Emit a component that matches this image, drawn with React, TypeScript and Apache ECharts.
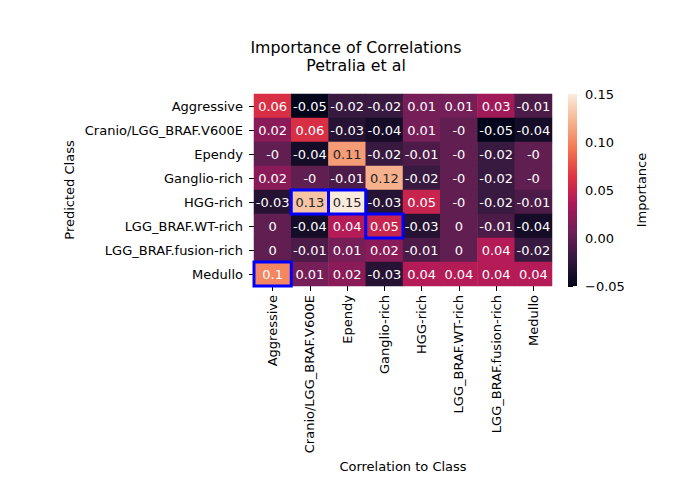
import React, { useEffect, useRef } from "react";
import * as echarts from "echarts";

const xCategories = [
  "Aggressive",
  "Cranio/LGG_BRAF.V600E",
  "Ependy",
  "Ganglio-rich",
  "HGG-rich",
  "LGG_BRAF.WT-rich",
  "LGG_BRAF.fusion-rich",
  "Medullo",
];
const yCategories = [
  "Aggressive",
  "Cranio/LGG_BRAF.V600E",
  "Ependy",
  "Ganglio-rich",
  "HGG-rich",
  "LGG_BRAF.WT-rich",
  "LGG_BRAF.fusion-rich",
  "Medullo",
];
// rows = predicted class (top to bottom), columns = correlation to class
const importance = [
  [0.06, -0.05, -0.02, -0.02, 0.01, 0.01, 0.03, -0.01],
  [0.02, 0.06, -0.03, -0.04, 0.01, -0, -0.05, -0.04],
  [-0, -0.04, 0.11, -0.02, -0.01, -0, -0.02, -0],
  [0.02, -0, -0.01, 0.12, -0.02, -0, -0.02, -0],
  [-0.03, 0.13, 0.15, -0.03, 0.05, -0, -0.02, -0.01],
  [0, -0.04, 0.04, 0.05, -0.03, 0, -0.01, -0.04],
  [0, -0.01, 0.01, 0.02, -0.01, 0, 0.04, -0.02],
  [0.1, 0.01, 0.02, -0.03, 0.04, 0.04, 0.04, 0.04],
];
// [column, row] of boxed cells
const highlighted = [
  [1, 4],
  [2, 4],
  [3, 5],
  [0, 7],
];
const colorMin = -0.05;
const colorMax = 0.15;
const colorStep = 0.05;
const rocket = ["#03051A", "#35193E", "#701F57", "#AD1759", "#E13342", "#F37651", "#F6B48F", "#FAEBDD"];

const FONT = "DejaVu Sans";

function hexToRgb(h: string) {
  return [parseInt(h.slice(1, 3), 16), parseInt(h.slice(3, 5), 16), parseInt(h.slice(5, 7), 16)];
}
function colorAt(v: number) {
  let t = (v - colorMin) / (colorMax - colorMin);
  t = Math.max(0, Math.min(1, t));
  const n = rocket.length - 1;
  const i = Math.min(n - 1, Math.floor(t * n));
  const f = t * n - i;
  const a = hexToRgb(rocket[i]);
  const b = hexToRgb(rocket[i + 1]);
  return a.map((c, k) => c + (b[k] - c) * f);
}
function luminance(rgb: number[]) {
  const lin = rgb.map((c) => {
    const x = c / 255;
    return x <= 0.03928 ? x / 12.92 : Math.pow((x + 0.055) / 1.055, 2.4);
  });
  return 0.2126 * lin[0] + 0.7152 * lin[1] + 0.0722 * lin[2];
}
function fmtCell(v: number) {
  if (Object.is(v, -0)) return "-0";
  return String(v);
}

export default function App() {
  const ref = useRef<HTMLDivElement>(null);
  useEffect(() => {
    if (!ref.current) return;
    const chart = echarts.init(ref.current, null, { renderer: "svg" });
    const heatData: any[] = [];
    importance.forEach((row, r) => {
      row.forEach((v, c) => {
        const lum = luminance(colorAt(v));
        heatData.push({
          value: [c, r, v],
          label: { color: lum > 0.408 ? "#262626" : "#ffffff" },
        });
      });
    });
    const stops = rocket.map((c, i) => ({ offset: i / (rocket.length - 1), color: c }));
    chart.setOption({
      animation: false,
      backgroundColor: "#ffffff",
      textStyle: { fontFamily: FONT },
      title: {
        text: "Importance of Correlations\nPetralia et al",
        left: 356,
        top: 38,
        padding: 0,
        textAlign: "center",
        textStyle: { fontFamily: FONT, fontSize: 15.8, fontWeight: "normal", color: "#000", lineHeight: 18 },
      },
      grid: [
        { left: 254, top: 94, width: 298, height: 192, containLabel: false },
        { left: 568, top: 94, width: 9, height: 192, containLabel: false },
      ],
      xAxis: [
        {
          type: "category",
          gridIndex: 0,
          data: xCategories,
          position: "bottom",
          name: "Correlation to Class",
          nameLocation: "middle",
          nameGap: 174,
          nameTextStyle: { fontFamily: FONT, fontSize: 13, color: "#000" },
          axisLine: { show: false },
          axisTick: { show: true, length: 5, alignWithLabel: true, lineStyle: { color: "#000", width: 1 } },
          axisLabel: { rotate: 90, margin: 9, fontFamily: FONT, fontSize: 13, color: "#000", interval: 0 },
          splitLine: { show: false },
        },
        { type: "value", gridIndex: 1, min: 0, max: 1, show: false },
      ],
      yAxis: [
        {
          type: "category",
          gridIndex: 0,
          data: yCategories,
          inverse: true,
          name: "Predicted Class",
          nameLocation: "middle",
          nameGap: 178,
          nameRotate: 90,
          nameTextStyle: { fontFamily: FONT, fontSize: 13, color: "#000" },
          axisLine: { show: false },
          axisTick: { show: true, length: 5, alignWithLabel: true, lineStyle: { color: "#000", width: 1 } },
          axisLabel: { margin: 11, fontFamily: FONT, fontSize: 13, color: "#000", interval: 0 },
          splitLine: { show: false },
        },
        {
          type: "value",
          gridIndex: 1,
          position: "right",
          min: colorMin,
          max: colorMax,
          interval: colorStep,
          name: "Importance",
          nameLocation: "middle",
          nameGap: 58,
          nameRotate: 90,
          nameMoveOverlap: false,
          nameTextStyle: { fontFamily: FONT, fontSize: 13, color: "#000" },
          axisLine: { show: false },
          axisTick: { show: true, length: 5, lineStyle: { color: "#000", width: 1 } },
          axisLabel: {
            margin: 8,
            fontFamily: FONT,
            fontSize: 13,
            color: "#000",
            formatter: (v: number) => {
              if (Math.abs(v) < 1e-9) return "0.00";
              const s = v.toFixed(2);
              return s.replace("-", "\u2212");
            },
          },
          splitLine: { show: false },
        },
      ],
      visualMap: {
        show: false,
        type: "continuous",
        min: colorMin,
        max: colorMax,
        seriesIndex: 0,
        dimension: 2,
        inRange: { color: rocket },
      },
      series: [
        {
          type: "heatmap",
          xAxisIndex: 0,
          yAxisIndex: 0,
          data: heatData,
          label: {
            show: true,
            fontFamily: FONT,
            fontSize: 13,
            formatter: (p: any) => fmtCell(importance[p.value[1]][p.value[0]]),
          },
          emphasis: { disabled: true },
        },
        {
          type: "custom",
          xAxisIndex: 0,
          yAxisIndex: 0,
          z: 10,
          data: highlighted,
          clip: false,
          renderItem: (params: any, api: any) => {
            const c = api.coord([api.value(0), api.value(1)]);
            const s = api.size([1, 1]);
            return {
              type: "rect",
              shape: { x: c[0] - s[0] / 2, y: c[1] - s[1] / 2, width: s[0], height: s[1] },
              style: { fill: "none", stroke: "#0000ff", lineWidth: 3 },
            };
          },
        },
        {
          type: "custom",
          xAxisIndex: 1,
          yAxisIndex: 1,
          data: [[0, colorMin]],
          clip: false,
          renderItem: (params: any, api: any) => {
            const top = api.coord([0, colorMax]);
            const bot = api.coord([1, colorMin]);
            return {
              type: "rect",
              shape: { x: top[0], y: top[1], width: bot[0] - top[0], height: bot[1] - top[1] },
              style: { fill: new echarts.graphic.LinearGradient(0, 1, 0, 0, stops) },
            };
          },
        },
      ],
    });
    return () => chart.dispose();
  }, []);
  return <div ref={ref} style={{ position: "fixed", left: 0, top: 0, width: 690, height: 494 }} />;
}
